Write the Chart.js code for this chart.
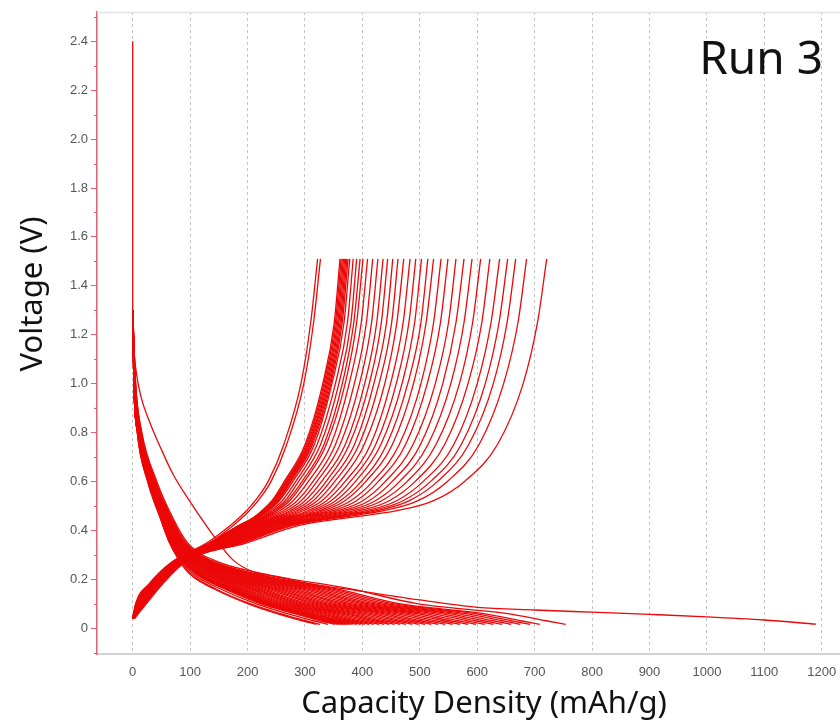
<!DOCTYPE html>
<html><head><meta charset="utf-8">
<script src="https://cdn.jsdelivr.net/npm/chart.js@4.4.0/dist/chart.umd.min.js"></script>
<style>html,body{margin:0;padding:0;background:#fff}#wrap{width:840px;height:724px;position:relative}</style>
</head><body><div id="wrap"><canvas id="c"></canvas></div>
<script>
// ---------- data ----------
const xAxisTitle = 'Capacity Density (mAh/g)';
const yAxisTitle = 'Voltage (V)';
const runLabel = 'Run 3';

const xTickValues = [0, 100, 200, 300, 400, 500, 600, 700, 800, 900, 1000, 1100, 1200];
const yTickValues = [0, 0.2, 0.4, 0.6, 0.8, 1.0, 1.2, 1.4, 1.6, 1.8, 2.0, 2.2, 2.4];
const yMinorTicks = [-0.1, 0.1, 0.3, 0.5, 0.7, 0.9, 1.1, 1.3, 1.5, 1.7, 1.9, 2.1, 2.3, 2.5];

// first lithiation: rest segment at 0 mAh/g, then the long first discharge
const firstRestCap = [0, 0, 0];
const firstRestV = [2.4, 1.7, 1.3];
const firstDischargeCap = [0, 2, 6, 14, 30, 50, 70, 99, 134, 174, 210, 250, 300, 400, 500, 600, 700, 800, 900, 1000, 1100, 1190];
const firstDischargeV = [1.3, 1.15, 1.05, 0.95, 0.84, 0.73, 0.63, 0.52, 0.40, 0.28, 0.23, 0.21, 0.185, 0.15, 0.115, 0.085, 0.074, 0.065, 0.056, 0.046, 0.033, 0.016];

// charge (delithiation) curves: capacity at each voltage level
const chargeVoltages = [0.04, 0.10, 0.18, 0.27, 0.35, 0.42, 0.45, 0.48, 0.52, 0.60, 0.75, 1.0, 1.25, 1.51];
const chargeCapacities = [
  [0,5,28,68,130,170,185,198,213,236,263,293,310,322],
  [1,7,31,71,135,175,190,203,218,241,268,298,315,327],
  [0,6,30,70,135,185,209,225,242,264,300,331,351,361],
  [0,6,30,70,135,186,210,226,244,266,302,333,353,363],
  [0,6,30,70,136,186,211,228,245,268,304,335,355,365],
  [0,6,30,70,136,187,212,229,247,269,306,337,357,367],
  [0,6,30,70,136,187,213,230,248,271,307,339,359,369],
  [0,7,31,71,137,188,214,232,250,273,309,341,361,371],
  [0,7,31,71,137,189,214,233,251,274,311,343,363,373],
  [0,7,31,71,138,189,215,234,253,276,313,345,365,375],
  [0,7,31,71,138,190,217,236,255,279,316,347,368,378],
  [0,7,31,71,139,192,219,240,260,284,321,353,374,384],
  [0,8,32,72,140,194,222,244,265,289,327,359,380,390],
  [0,8,32,72,141,195,225,248,269,295,333,365,385,396],
  [0,8,32,72,142,197,227,251,273,299,337,370,390,401],
  [0,8,33,73,144,199,230,256,279,306,345,377,398,409],
  [0,9,33,73,145,202,234,262,286,314,353,386,407,418],
  [1,9,34,74,147,204,239,268,293,321,361,395,416,427],
  [1,10,35,75,149,207,243,274,300,329,370,404,425,436],
  [1,10,35,75,150,209,246,279,307,337,377,412,433,444],
  [1,11,36,76,152,212,250,285,314,344,386,420,442,453],
  [1,11,36,76,153,215,254,291,321,352,394,429,451,462],
  [1,12,37,77,155,217,259,297,329,361,403,439,460,472],
  [1,12,38,78,157,221,264,305,337,370,414,449,471,483],
  [1,13,38,78,159,224,268,311,345,379,423,459,481,493],
  [1,13,39,79,161,226,272,318,353,388,432,469,491,503],
  [1,14,39,79,163,230,277,325,361,398,442,479,502,514],
  [1,14,40,80,164,233,282,332,369,406,452,489,511,524],
  [1,15,41,81,167,236,288,340,379,418,464,502,524,537],
  [2,15,42,82,169,240,293,348,389,428,475,513,536,549],
  [2,16,42,82,172,244,299,357,400,440,488,527,550,563],
  [2,17,43,83,174,248,306,366,411,452,501,540,563,577],
  [2,18,44,84,177,252,312,375,422,465,514,554,577,591],
  [2,18,45,85,179,257,319,385,433,478,528,569,592,606],
  [2,19,46,86,182,261,326,395,446,492,543,584,608,622],
  [2,20,47,87,185,266,333,406,459,506,559,600,624,639],
  [2,21,48,88,188,270,340,416,470,519,572,614,638,653],
  [3,21,49,89,190,274,346,425,481,531,585,628,652,667],
  [3,22,50,90,194,280,354,437,496,548,603,646,671,686],
  [3,24,52,92,200,290,370,460,523,578,635,680,705,721]
];

// discharge (lithiation) curves, cycle 2 onward: capacity at each voltage level
const dischargeVoltages = [1.3, 1.0, 0.8, 0.6, 0.45, 0.35, 0.28, 0.22, 0.16, 0.10, 0.06, 0.03, 0.015];
const dischargeCapacities = [
  [0,2,8,26,48,64,80,100,142,200,250,295,320],
  [0,2,8,26,48,64,81,102,145,204,256,301,326],
  [0,2,8,27,49,65,83,106,153,214,268,315,340],
  [0,2,9,27,50,66,84,110,160,222,280,326,352],
  [0,2,9,27,50,67,85,112,163,226,285,332,358],
  [0,2,9,28,50,67,86,113,165,229,289,336,362],
  [0,2,9,28,50,67,86,114,167,231,292,340,366],
  [0,2,9,28,51,68,87,115,169,234,296,344,370],
  [0,2,9,28,51,68,87,116,172,237,300,348,374],
  [0,2,9,28,51,68,88,118,174,240,304,352,378],
  [0,2,9,28,51,68,89,119,177,243,308,357,383],
  [0,2,9,29,52,69,90,121,180,247,314,363,390],
  [0,3,9,29,52,69,90,124,184,252,321,370,397],
  [0,3,10,29,52,70,91,126,188,257,328,377,404],
  [0,3,10,29,53,71,93,128,192,263,335,385,412],
  [0,3,10,30,53,71,94,131,197,268,342,393,420],
  [0,3,10,30,54,72,95,133,202,274,350,402,429],
  [0,3,10,30,54,72,96,136,207,280,359,411,438],
  [0,3,10,31,54,73,97,139,212,286,367,420,447],
  [0,3,11,31,55,74,98,142,216,292,375,428,456],
  [0,3,11,31,55,74,100,145,222,299,384,438,466],
  [0,3,11,32,56,75,101,148,227,306,394,448,476],
  [0,3,11,32,56,76,103,151,234,314,404,459,487],
  [0,3,11,33,57,77,104,155,240,321,414,469,498],
  [0,3,11,33,58,77,106,158,246,328,424,480,509],
  [0,3,12,33,58,78,107,161,252,336,434,491,520],
  [0,3,12,34,59,79,109,165,258,344,445,502,532],
  [0,4,12,34,59,80,110,169,265,352,456,514,544],
  [0,4,12,35,60,81,112,173,272,361,468,527,557],
  [0,4,13,35,61,82,114,177,279,370,480,540,570],
  [0,4,13,36,61,83,116,181,287,379,493,553,584],
  [0,4,13,36,62,84,118,185,295,389,506,567,598],
  [0,4,13,37,63,85,120,190,303,399,520,582,613],
  [0,4,14,37,64,86,122,194,311,409,534,597,628],
  [0,4,14,38,64,87,124,199,319,419,548,611,643],
  [0,4,14,38,65,88,126,204,328,430,562,627,659],
  [0,4,15,39,66,89,128,209,337,441,577,643,675],
  [0,5,15,40,67,91,131,214,346,453,593,659,692],
  [0,5,15,40,68,92,133,219,355,464,608,676,709],
  [0,5,16,42,70,95,139,233,380,495,650,720,754]
];

// ---------- chart ----------
const RED = 'rgb(236,8,8)';
const AXIS_PINK = '#e0607a';

function curve(caps, volts, smooth) {
  return {
    data: caps.map((c, i) => ({x: c, y: volts[i]})),
    showLine: true,
    borderColor: RED,
    backgroundColor: RED,
    borderWidth: 1.3,
    pointRadius: 0,
    pointHoverRadius: 0,
    fill: false,
    tension: 0,
    cubicInterpolationMode: smooth ? 'monotone' : 'default'
  };
}

const datasets = [];
datasets.push(curve(firstRestCap, firstRestV, false));
datasets.push(curve(firstDischargeCap, firstDischargeV, true));
chargeCapacities.forEach(row => datasets.push(curve(row, chargeVoltages, true)));
dischargeCapacities.forEach(row => datasets.push(curve(row, dischargeVoltages, true)));

const deco = {
  id: 'deco',
  afterDraw(chart) {
    const {ctx, chartArea: a, scales: {y}} = chart;
    ctx.save();
    // top frame line
    ctx.strokeStyle = '#e2e2e2';
    ctx.lineWidth = 1.5;
    ctx.beginPath();
    ctx.moveTo(a.left, a.top + 0.5);
    ctx.lineTo(a.right, a.top + 0.5);
    ctx.stroke();
    // minor ticks on the voltage axis
    ctx.strokeStyle = AXIS_PINK;
    ctx.lineWidth = 1;
    ctx.beginPath();
    yMinorTicks.forEach(v => {
      const py = Math.round(y.getPixelForValue(v)) + 0.5;
      ctx.moveTo(a.left - 3, py);
      ctx.lineTo(a.left, py);
    });
    ctx.stroke();
    // axis titles
    ctx.fillStyle = '#111';
    ctx.font = '31px "Noto Sans"';
    ctx.textAlign = 'center';
    ctx.textBaseline = 'alphabetic';
    ctx.fillText(xAxisTitle, 484, 713);
    ctx.save();
    ctx.translate(42, 294);
    ctx.rotate(-Math.PI / 2);
    ctx.fillText(yAxisTitle, 0, 0);
    ctx.restore();
    // run label
    ctx.font = '46px "Noto Sans"';
    ctx.textAlign = 'right';
    ctx.fillText(runLabel, 823, 74);
    ctx.restore();
  }
};

new Chart(document.getElementById('c'), {
  type: 'scatter',
  data: {datasets},
  options: {
    responsive: true,
    maintainAspectRatio: false,
    animation: false,
    layout: {padding: {top: 12, left: 0, right: 0, bottom: 0}},
    plugins: {legend: {display: false}, tooltip: {enabled: false}},
    events: [],
    scales: {
      x: {
        type: 'linear',
        min: -62.2,
        max: 1231.8,
        afterFit(s) { s.height = 70; s.paddingLeft = 0; s.paddingRight = 0; },
        afterBuildTicks(s) { s.ticks = xTickValues.map(v => ({value: v})); },
        ticks: {
          padding: 11,
          color: '#555',
          font: {family: '"Liberation Sans", Arial', size: 13},
          maxRotation: 0,
          autoSkip: false,
          callback: v => String(v)
        },
        grid: {color: '#c4c4c4', lineWidth: 1, drawTicks: false},
        border: {color: '#d2d2d2', width: 2, dash: [3, 3]}
      },
      y: {
        type: 'linear',
        min: -0.106,
        max: 2.52,
        afterFit(s) { s.width = 97; s.paddingTop = 0; s.paddingBottom = 0; },
        afterBuildTicks(s) { s.ticks = yTickValues.map(v => ({value: v})); },
        ticks: {
          padding: 3,
          color: '#555',
          font: {family: '"Liberation Sans", Arial', size: 13},
          autoSkip: false,
          callback: v => (Math.abs(v) < 1e-9 ? '0' : Number(v).toFixed(1))
        },
        grid: {drawOnChartArea: false, drawTicks: true, tickLength: 6, tickColor: AXIS_PINK, tickWidth: 1},
        border: {color: AXIS_PINK, width: 1.5}
      }
    }
  },
  plugins: [deco]
});
</script>
</body></html>
